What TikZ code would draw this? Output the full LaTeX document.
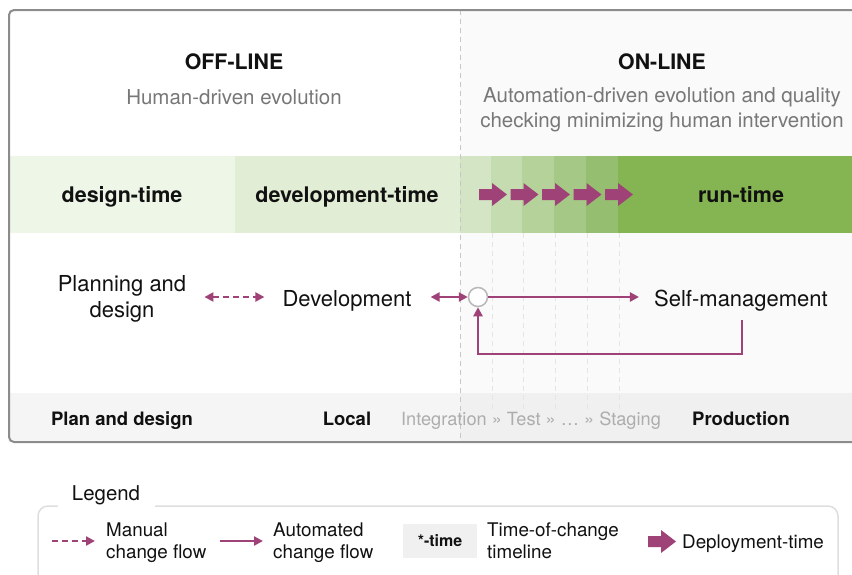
\documentclass[tikz,border=0pt]{standalone}
\usepackage{fontspec}
\setmainfont{TeX Gyre Heros}
\usetikzlibrary{arrows.meta}

\definecolor{flowc}{HTML}{9F4278}
\definecolor{framec}{HTML}{8C8C8C}
\definecolor{subc}{HTML}{777777}
\definecolor{fadec}{HTML}{ADADAD}
\definecolor{inkc}{HTML}{111111}
\definecolor{bandA}{HTML}{EEF6E8}
\definecolor{bandB}{HTML}{E1EDD5}
\definecolor{bandC}{HTML}{D4E5C5}
\definecolor{bandD}{HTML}{C5DCB0}
\definecolor{bandE}{HTML}{B5D29B}
\definecolor{bandF}{HTML}{A5C886}
\definecolor{bandG}{HTML}{95BE70}
\definecolor{bandH}{HTML}{85B552}

\tikzset{
  struts/.style={inner sep=0, execute at begin node=\strut, execute at end node=\strut},
  hdr/.style={struts, font=\fontsize{21.3}{24}\selectfont\bfseries, text=inkc},
  subhdr/.style={struts, font=\fontsize{20.5}{25}\selectfont, text=subc, align=center},
  bandlabel/.style={struts, font=\fontsize{21.5}{25}\selectfont\bfseries, text=inkc},
  stage/.style={struts, font=\fontsize{22}{26}\selectfont, text=inkc, align=center},
  envlabel/.style={struts, font=\fontsize{18.5}{22}\selectfont\bfseries, text=inkc},
  envfade/.style={struts, font=\fontsize{18.2}{22}\selectfont, text=fadec},
  legtext/.style={struts, font=\fontsize{18.8}{22}\selectfont, text=inkc, align=left, anchor=west},
  flow/.style={draw=flowc, line width=2.5pt, arrows={-Triangle[length=9pt,width=9pt]}},
  twoway/.style={flow, arrows={Triangle[length=9pt,width=9pt]-Triangle[length=9pt,width=9pt]}},
  manual/.style={dash pattern=on 6pt off 4pt},
  phase/.style={draw=black!22, line width=1pt, dash pattern=on 5pt off 4pt},
  subphase/.style={draw=black!10, line width=1pt, dash pattern=on 5pt off 4pt},
  hubnode/.style={circle, draw=black!28, fill=white, line width=1.5pt, minimum size=19pt, inner sep=0},
  timebox/.style={fill=black!6, minimum width=74pt, minimum height=34pt, inner sep=0,
                  font=\fontsize{16}{19}\selectfont\bfseries, text=inkc},
}

% block arrow marking one deployment step: #1 = left x, #2 = centre y
\newcommand\deploystep[2]{%
  \fill[flowc] (#1,#2-5.5) -- ++(13,0) -- ++(0,-6) -- (#1+28,#2) -- (#1+13,#2+11.5)
    -- ++(0,-6) -- (#1,#2+5.5) -- cycle;}

\begin{document}
\begin{tikzpicture}[x=1pt,y=-1pt]
\useasboundingbox (0,0) rectangle (852,574);
\clip (0,0) rectangle (852,574);

% on-line half has a faintly grey ground
\fill[black!2] (460,10) rectangle (880,442);

% environment strip along the bottom
\fill[black!4] (10,393) rectangle (460,442);
\fill[black!6] (460,393) rectangle (880,442);

% time-of-change band
\fill[bandA] (10,156) rectangle (235,233);
\fill[bandB] (235,156) rectangle (460,233);
\fill[bandC] (460,156) rectangle (491,233);
\fill[bandD] (491,156) rectangle (522,233);
\fill[bandE] (522,156) rectangle (554,233);
\fill[bandF] (554,156) rectangle (586,233);
\fill[bandG] (586,156) rectangle (618,233);
\fill[bandH] (618,156) rectangle (880,233);

% faint guides under the deployment steps
\foreach \gx in {492,523,555,587,619}
  {\draw[subphase] (\gx,233) -- (\gx,412);}

% off-line / on-line divide
\draw[phase] (460,10) -- (460,442);

% outer frame
\draw[framec, line width=2pt, rounded corners=5pt] (9,10) rectangle (890,442);

% headings
\node[hdr] (offline) at (234,64.6) {OFF-LINE};
\node[subhdr] (offsub) at (234,99) {Human-driven evolution};
\node[hdr] (online) at (662,64.6) {ON-LINE};
\node[subhdr] (onsub) at (662,110.8) {Automation-driven evolution and quality\\checking minimizing human intervention};

% band labels
\node[bandlabel] (designtime) at (122,197) {design-time};
\node[bandlabel] (devtime) at (347,197) {development-time};
\node[bandlabel] (runtime) at (741,197) {run-time};

% deployment steps
\foreach \ax in {479,510.5,542,573.5,605}
  {\deploystep{\ax}{194.5}}

% stages of the life cycle
\node[stage] (plan) at (122,300.8) {Planning and\\design};
\node[stage] (dev) at (347,300.8) {Development};
\node[hubnode] (hub) at (478,297) {};
\node[stage] (self) at (741,300.8) {Self-management};
\coordinate (fbstart) at (742,320);

\draw[twoway, manual] ([xshift=18pt]plan.east |- hub.center) -- ([xshift=-18pt]dev.west |- hub.center);
\draw[twoway] ([xshift=19pt]dev.east |- hub.center) -- (hub.west);
\draw[flow] (hub.east) -- ([xshift=-15pt]self.west |- hub.center);
\draw[flow] (fbstart) -- ++(0,34) -| (hub.south);

% environments
\node[envlabel] (envplan) at (122,420.6) {Plan and design};
\node[envlabel] (envlocal) at (347,420.6) {Local};
\node[envfade] (envpipe) at (531,420.6) {Integration » Test » … » Staging};
\node[envlabel] (envprod) at (741,420.6) {Production};

% legend
\draw[black!13, line width=1.5pt, rounded corners=10pt] (38,506) rectangle (838,620);
\node[struts, fill=white, minimum width=97pt, minimum height=30pt,
      font=\fontsize{20.4}{24}\selectfont, text=inkc] (legtitle) at (106,495.2) {Legend};

\coordinate (lmA) at (52,541);
\coordinate (lmB) at (95,541);
\draw[flow, manual] (lmA) -- (lmB);
\node[legtext] (lmtext) at (106,543.9) {Manual\\change flow};

\coordinate (laA) at (220,541);
\coordinate (laB) at (263,541);
\draw[flow] (laA) -- (laB);
\node[legtext] (latext) at (273,543.9) {Automated\\change flow};

\node[timebox] (ltbox) at (440,541) {*-time};
\node[legtext] (lttext) at (487,543.9) {Time-of-change\\timeline};

\deploystep{648}{541.5}
\node[legtext] (ldtext) at (682,543.9) {Deployment-time};
\end{tikzpicture}
\end{document}
